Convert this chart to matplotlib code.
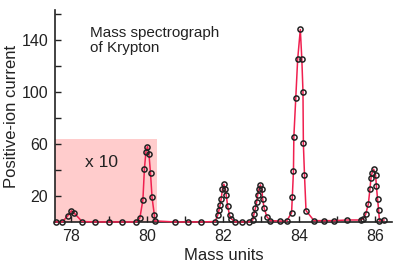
import matplotlib
matplotlib.use("Agg")
import matplotlib.pyplot as plt
from matplotlib.patches import Rectangle
from matplotlib.ticker import MultipleLocator

plt.rcParams["font.family"] = ["Liberation Sans", "DejaVu Sans"]

# Measured points (mass units, positive-ion current)
mass = [
    77.62, 77.78, 77.92, 78.02, 78.10, 78.30, 78.65, 79.00, 79.35, 79.72,
    79.82, 79.90, 79.94, 79.98, 80.02, 80.06, 80.10, 80.14, 80.20, 80.21,
    80.74, 81.09, 81.44,
    81.80, 81.87, 81.90, 81.93, 81.96, 81.99, 82.03, 82.07, 82.09, 82.13,
    82.18, 82.22, 82.33, 82.50, 82.68,
    82.79, 82.82, 82.86, 82.89, 82.92, 82.95, 82.99, 83.03, 83.05, 83.09,
    83.16, 83.25, 83.51, 83.68,
    83.81, 83.83, 83.86, 83.87, 83.92, 83.97, 84.04, 84.08, 84.11, 84.12,
    84.15, 84.19, 84.40, 84.66, 84.92, 85.27,
    85.63, 85.70, 85.76, 85.83, 85.87, 85.90, 85.93, 85.97, 86.02, 86.04,
    86.07, 86.10, 86.12, 86.24,
]
current = [
    0.0, 0.0, 4.6, 8.6, 6.6, 0.3, 0.0, 0.0, 0.0, 0.0,
    3.0, 17.0, 41.0, 54.0, 58.0, 52.0, 37.5, 19.0, 5.5, 0.8,
    0.0, 0.0, 0.0,
    0.3, 5.4, 9.0, 13.0, 18.0, 25.0, 29.0, 25.0, 21.0, 12.0,
    5.0, 2.5, 0.0, 0.0, 0.0,
    1.5, 6.0, 10.5, 15.0, 21.0, 25.0, 28.5, 25.0, 17.5, 10.5,
    4.0, 1.0, 0.7, 0.7,
    7.0, 19.5, 39.5, 65.6, 95.0, 125.0, 148.0, 125.0, 100.0, 60.5,
    36.0, 8.7, 1.0, 1.0, 1.0, 1.5,
    1.5, 2.5, 6.0, 14.0, 25.0, 34.0, 38.0, 40.5, 36.0, 28.0,
    18.0, 9.0, 1.0, 1.5,
]

# region magnified ten times
shade_x = [77.59, 80.27]
shade_top = 64

fig = plt.figure(figsize=(4.02, 2.70), dpi=100)
ax = fig.add_axes([0.137, 0.178, 0.838, 0.785])

ax.add_patch(Rectangle((shade_x[0], 0), shade_x[1] - shade_x[0], shade_top,
                       facecolor="#ffcccc", edgecolor="none", zorder=0))

ax.plot(mass, current, color="#f0204f", linewidth=1.1, marker="o",
        markersize=3.7, markerfacecolor="none", markeredgecolor="#222222",
        markeredgewidth=1.1, clip_on=False, zorder=3)

ax.text(78.51, 150.5, "Mass spectrograph\nof Krypton", fontsize=11,
        va="top", ha="left", linespacing=1.1, color="#222222")
ax.text(78.38, 45.5, "x 10", fontsize=12.5, va="center", ha="left",
        color="#222222")

ax.set_xlim(77.59, 86.45)
ax.set_ylim(0, 163)
ax.xaxis.set_major_locator(MultipleLocator(2))
ax.xaxis.set_minor_locator(MultipleLocator(1))
ax.set_yticks([20, 60, 100, 140])
ax.set_yticks([40, 80, 120, 160], minor=True)

ax.tick_params(which="both", direction="in", labelsize=11.5, width=1.0,
               colors="#222222")
ax.tick_params(which="major", length=4, pad=5)
ax.tick_params(which="minor", length=4)

for side in ["top", "right"]:
    ax.spines[side].set_visible(False)
for side in ["left", "bottom"]:
    ax.spines[side].set_linewidth(1.2)
    ax.spines[side].set_color("#222222")

ax.set_xlabel("Mass units", fontsize=12, labelpad=3, color="#222222")
ax.set_ylabel("Positive-ion current", fontsize=12, labelpad=2,
              color="#222222")

fig.savefig("out.png", dpi=100)
